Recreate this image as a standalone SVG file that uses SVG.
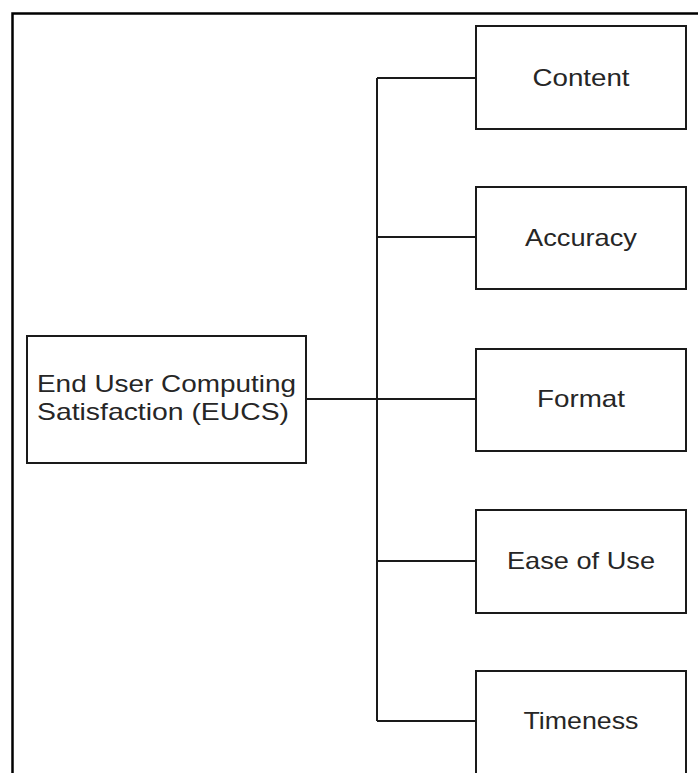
<svg xmlns="http://www.w3.org/2000/svg" width="698" height="773" viewBox="0 0 698 773">
<style>
.box{fill:#fff;stroke:#1a1a1a;stroke-width:2}
.lbl{font-family:"Liberation Sans",Arial,sans-serif;font-size:24px;fill:#262626;text-anchor:middle}
.conn{fill:none;stroke:#1a1a1a;stroke-width:2}
</style>
<rect x="0" y="0" width="698" height="773" fill="#fff"/>
<rect x="12.5" y="13.5" width="720" height="800" fill="none" stroke="#000" stroke-width="2.5"/>
<g id="connectors">
<path class="conn" d="M306 399H476M377 78V721M377 78H476M377 237H476M377 561H476M377 721H476"/>
</g>
<g id="eucs">
<rect class="box" x="27" y="336" width="279" height="127"/>
<text class="lbl" x="166.5" y="392" textLength="259" lengthAdjust="spacingAndGlyphs">End User Computing</text>
<text class="lbl" x="163" y="420" textLength="252" lengthAdjust="spacingAndGlyphs">Satisfaction (EUCS)</text>
</g>
<g id="content">
<rect class="box" x="476" y="26" width="210" height="103"/>
<text class="lbl" x="581" y="86" textLength="97" lengthAdjust="spacingAndGlyphs">Content</text>
</g>
<g id="accuracy">
<rect class="box" x="476" y="187" width="210" height="102"/>
<text class="lbl" x="581" y="246" textLength="112" lengthAdjust="spacingAndGlyphs">Accuracy</text>
</g>
<g id="format">
<rect class="box" x="476" y="349" width="210" height="102"/>
<text class="lbl" x="581" y="407" textLength="88" lengthAdjust="spacingAndGlyphs">Format</text>
</g>
<g id="ease-of-use">
<rect class="box" x="476" y="510" width="210" height="103"/>
<text class="lbl" x="581" y="569" textLength="148" lengthAdjust="spacingAndGlyphs">Ease of Use</text>
</g>
<g id="timeness">
<rect class="box" x="476" y="671" width="210" height="120"/>
<text class="lbl" x="581" y="729" textLength="115" lengthAdjust="spacingAndGlyphs">Timeness</text>
</g>
</svg>
